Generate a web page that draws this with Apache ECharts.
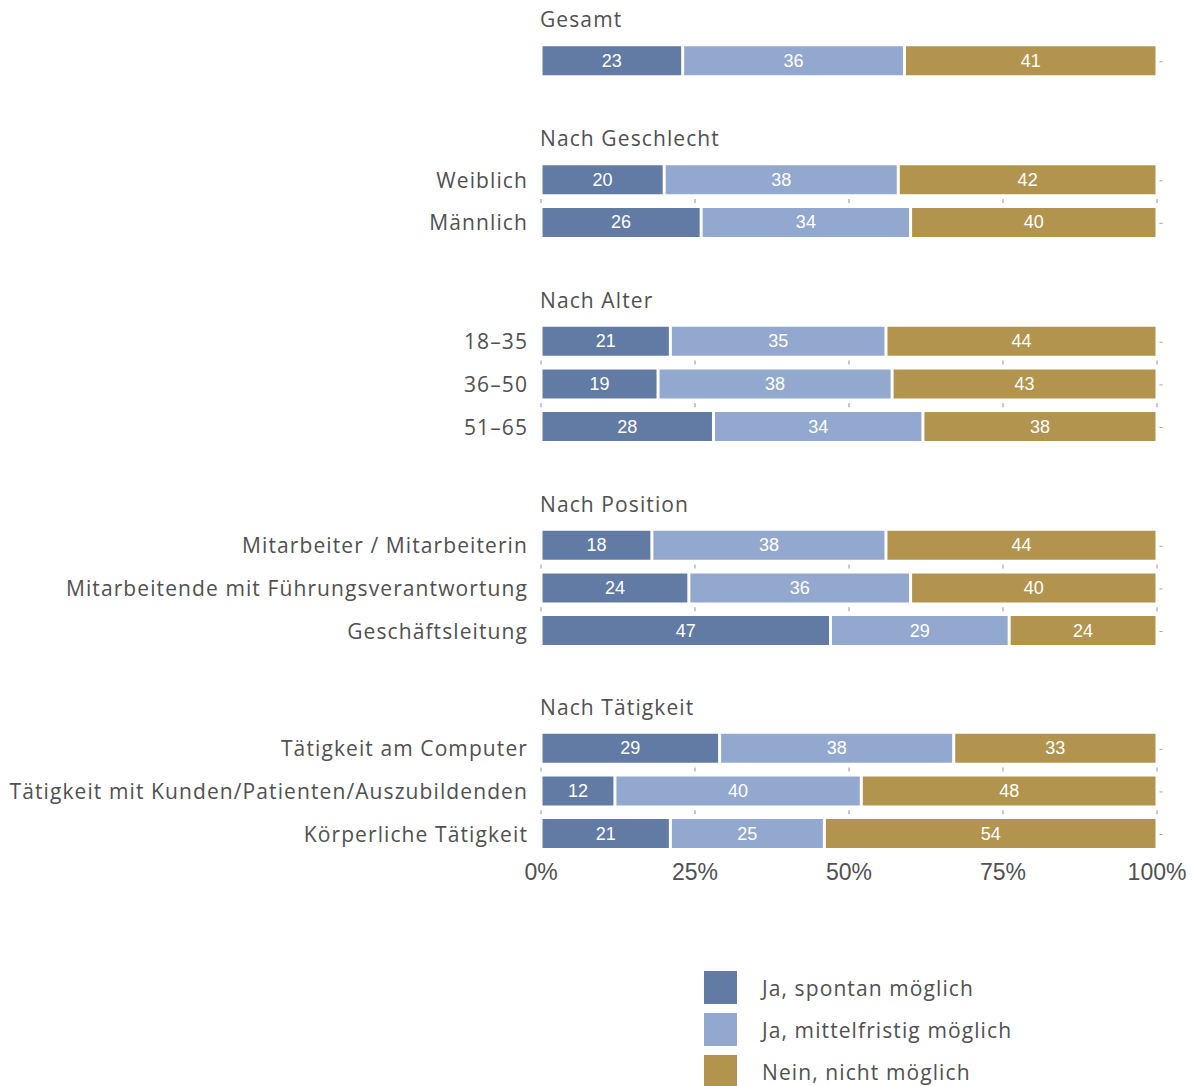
<!DOCTYPE html>
<html>
<head>
<meta charset="utf-8">
<script src="https://cdn.jsdelivr.net/npm/echarts@6/dist/echarts.min.js"></script>
<style>
  html, body { margin: 0; padding: 0; background: #fff; }
  #chart { width: 1192px; height: 1086px; }
  /* slightly tracked text for labels, titles and legend */
  #chart svg text { letter-spacing: 1.1px; }
  #chart svg text[style*="Narrow"] { letter-spacing: 0; }
</style>
</head>
<body>
<div id="chart"></div>
<script>
// Facet titles and the row labels of each facet
const groupTitles = ['Gesamt', 'Nach Geschlecht', 'Nach Alter', 'Nach Position', 'Nach Tätigkeit'];
const groupCategories = [
  [''],
  ['Weiblich', 'Männlich'],
  ['18–35', '36–50', '51–65'],
  ['Mitarbeiter / Mitarbeiterin', 'Mitarbeitende mit Führungsverantwortung', 'Geschäftsleitung'],
  ['Tätigkeit am Computer', 'Tätigkeit mit Kunden/Patienten/Auszubildenden', 'Körperliche Tätigkeit']
];

// Answer shares in percent, one list per facet
const seriesNames = ['Ja, spontan möglich', 'Ja, mittelfristig möglich', 'Nein, nicht möglich'];
const spontan = [[23], [20, 26], [21, 19, 28], [18, 24, 47], [29, 12, 21]];
const mittelfristig = [[36], [38, 34], [35, 38, 34], [38, 36, 29], [38, 40, 25]];
const nein = [[41], [42, 40], [44, 43, 38], [44, 40, 24], [33, 48, 54]];

// Percent axis ticks
const tickValues = [0, 25, 50, 75, 100];

const colors = ['#627ba5', '#93a8ce', '#b3944e'];
const textColor = '#505050';
const FONT = '"Open Sans", Roboto, sans-serif';
const NARROW = '"Liberation Sans Narrow", "Liberation Sans", sans-serif';

const ROW_H = 42.6;
const gridTops = [39.5, 158.5, 320, 524, 727];
const PLOT_LEFT = 541;
const PLOT_RIGHT = 35;

const valueSets = [spontan, mittelfristig, nein];

const grids = [], xAxes = [], yAxes = [], series = [], titles = [];

groupCategories.forEach((cats, g) => {
  const n = cats.length;
  const isLast = g === groupCategories.length - 1;

  grids.push({ left: PLOT_LEFT, right: PLOT_RIGHT, top: gridTops[g], height: ROW_H * n });

  titles.push({
    text: groupTitles[g],
    left: PLOT_LEFT - 1,
    top: gridTops[g] - 31,
    padding: 0,
    textStyle: { fontFamily: FONT, fontSize: 21, fontWeight: 'normal', color: textColor }
  });

  xAxes.push({
    gridIndex: g, type: 'value', min: 0, max: 100, interval: 25,
    axisLine: { show: false }, axisTick: { show: false }, splitLine: { show: false },
    axisLabel: {
      show: isLast, formatter: '{value}%', margin: 6,
      fontFamily: NARROW, fontSize: 23, color: textColor
    }
  });

  // category axis for bars
  yAxes.push({
    gridIndex: g, type: 'category', data: cats, inverse: true,
    axisLine: { show: false }, axisTick: { show: false },
    axisLabel: { margin: 13, fontFamily: FONT, fontSize: 21, color: textColor }
  });
  // continuous helper axis for the small marks between rows
  yAxes.push({ gridIndex: g, type: 'value', min: 0, max: n, inverse: true, show: false });

  valueSets.forEach((vals, s) => {
    series.push({
      name: seriesNames[s], type: 'bar', stack: 'g' + g,
      xAxisIndex: g, yAxisIndex: 2 * g,
      data: vals[g], barWidth: 32,
      itemStyle: { color: colors[s], borderColor: '#fff', borderWidth: 1.5 },
      label: {
        show: true, position: 'inside', color: '#fff',
        fontFamily: NARROW, fontSize: 18
      },
      emphasis: { disabled: true }
    });
  });

  // small gridline ticks in the gaps between rows
  const tickData = [];
  for (let b = 1; b < n; b++) tickValues.forEach(t => tickData.push([t, b]));
  series.push({
    type: 'scatter', xAxisIndex: g, yAxisIndex: 2 * g + 1, silent: true,
    symbol: 'rect', symbolSize: [1, 4], itemStyle: { color: '#777' },
    data: tickData, z: 1
  });

  // short marks right of each row end
  const endData = [];
  for (let r = 0; r < n; r++) endData.push([100, r + 0.5]);
  series.push({
    type: 'scatter', xAxisIndex: g, yAxisIndex: 2 * g + 1, silent: true,
    symbol: 'rect', symbolSize: [3, 1], symbolOffset: [4, 1],
    itemStyle: { color: '#888' }, data: endData, z: 1
  });
});

const chart = echarts.init(document.getElementById('chart'), null, { renderer: 'svg' });
chart.setOption({
  animation: false,
  backgroundColor: '#fff',
  title: titles,
  grid: grids,
  xAxis: xAxes,
  yAxis: yAxes,
  legend: {
    data: seriesNames,
    orient: 'vertical',
    left: 702, top: 969,
    width: 400, height: 140,
    padding: 0,
    itemWidth: 35, itemHeight: 35, itemGap: 5,
    icon: 'rect',
    selectedMode: false,
    textStyle: { fontFamily: FONT, fontSize: 21, color: textColor, padding: [0, 0, 0, 19] }
  },
  series: series
});
</script>
</body>
</html>
